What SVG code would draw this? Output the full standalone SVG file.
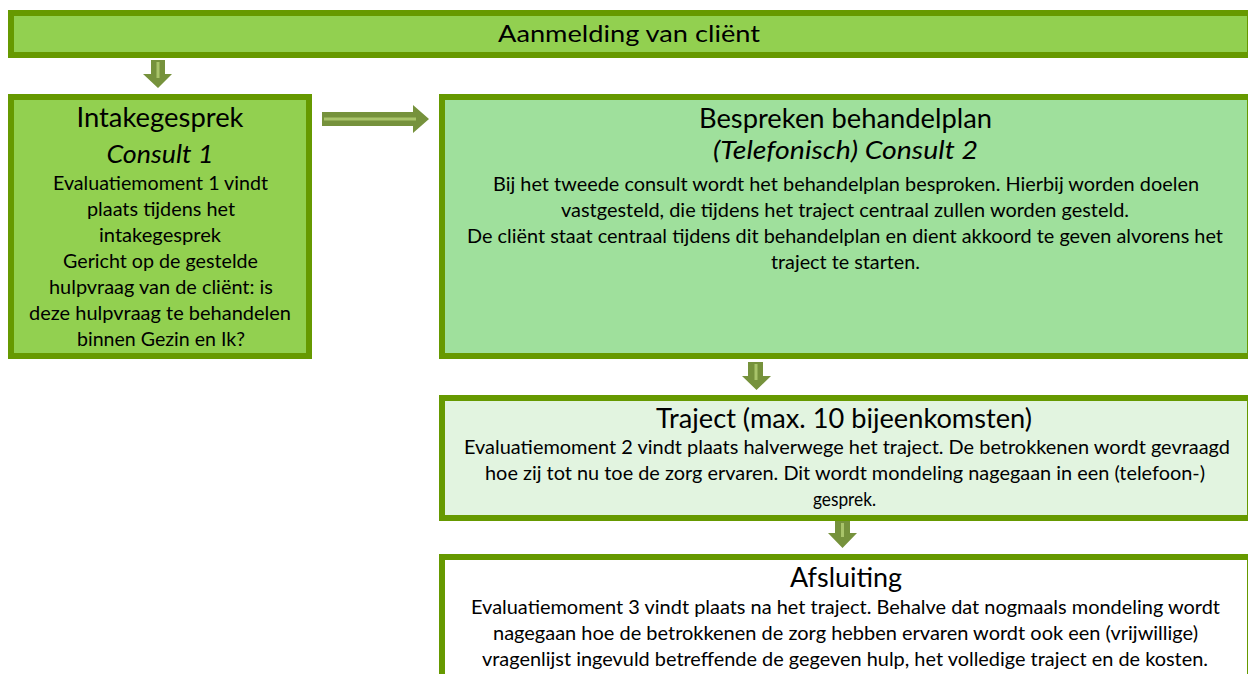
<svg xmlns="http://www.w3.org/2000/svg" width="1248" height="674" viewBox="0 0 1248 674">
<style>
  .bd { fill: #669900; }
  .t { font-family: Lato, "Open Sans", "Liberation Sans", sans-serif; fill: #000; text-anchor: middle; }
  .h { font-size: 26px; }
  .hi { font-size: 26px; font-style: italic; }
  .b { font-size: 18.7px; }
  .arr { fill: #76923C; }
  .hl { stroke: #A9C46A; stroke-width: 3; fill: none; }
</style>
<rect width="1248" height="674" fill="#ffffff"/>

<g id="aanmelding">
  <rect class="bd" x="8" y="10" width="1240" height="48"/>
  <rect x="14" y="16" width="1233" height="36" fill="#92D050"/>
  <text class="t" x="629" y="42" font-size="24" textLength="262" lengthAdjust="spacingAndGlyphs">Aanmelding van cliënt</text>
</g>

<g id="intakegesprek">
  <rect class="bd" x="8" y="94" width="304" height="265"/>
  <rect x="14" y="100" width="292" height="253" fill="#92D050"/>
  <text class="t h" x="160" y="127" textLength="167" lengthAdjust="spacingAndGlyphs">Intakegesprek</text>
  <text class="t hi" x="160" y="163" textLength="107" lengthAdjust="spacingAndGlyphs">Consult 1</text>
  <text class="t b" x="160.5" y="190" textLength="215" lengthAdjust="spacingAndGlyphs">Evaluatiemoment 1 vindt</text>
  <text class="t b" x="161" y="216" textLength="148" lengthAdjust="spacingAndGlyphs">plaats tijdens het</text>
  <text class="t b" x="160" y="242" textLength="122" lengthAdjust="spacingAndGlyphs">intakegesprek</text>
  <text class="t b" x="160.5" y="268" textLength="195" lengthAdjust="spacingAndGlyphs">Gericht op de gestelde</text>
  <text class="t b" x="161" y="294" textLength="224" lengthAdjust="spacingAndGlyphs">hulpvraag van de cliënt: is</text>
  <text class="t b" x="160" y="320" textLength="262" lengthAdjust="spacingAndGlyphs">deze hulpvraag te behandelen</text>
  <text class="t b" x="161" y="346" textLength="168" lengthAdjust="spacingAndGlyphs">binnen Gezin en Ik?</text>
</g>

<g id="bespreken">
  <rect class="bd" x="439" y="94" width="809" height="265"/>
  <rect x="445" y="100" width="802" height="253" fill="#9FE09C"/>
  <text class="t h" x="845.5" y="128" textLength="293" lengthAdjust="spacingAndGlyphs">Bespreken behandelplan</text>
  <text class="t hi" x="845.5" y="159" textLength="265" lengthAdjust="spacingAndGlyphs">(Telefonisch) Consult 2</text>
  <text class="t b" x="846" y="191" textLength="706" lengthAdjust="spacingAndGlyphs">Bij het tweede consult wordt het behandelplan besproken. Hierbij worden doelen</text>
  <text class="t b" x="845" y="217" textLength="568" lengthAdjust="spacingAndGlyphs">vastgesteld, die tijdens het traject centraal zullen worden gesteld.</text>
  <text class="t b" x="845" y="243" textLength="756" lengthAdjust="spacingAndGlyphs">De cliënt staat centraal tijdens dit behandelplan en dient akkoord te geven alvorens het</text>
  <text class="t b" x="845.5" y="269" textLength="149" lengthAdjust="spacingAndGlyphs">traject te starten.</text>
</g>

<g id="traject">
  <rect class="bd" x="439" y="395" width="809" height="126"/>
  <rect x="445" y="401" width="802" height="114" fill="#E2F4E0"/>
  <text class="t h" x="844" y="428" textLength="376" lengthAdjust="spacingAndGlyphs">Traject (max. 10 bijeenkomsten)</text>
  <text class="t b" x="847" y="454" textLength="766" lengthAdjust="spacingAndGlyphs">Evaluatiemoment 2 vindt plaats halverwege het traject. De betrokkenen wordt gevraagd</text>
  <text class="t b" x="845" y="480" textLength="720" lengthAdjust="spacingAndGlyphs">hoe zij tot nu toe de zorg ervaren. Dit wordt mondeling nagegaan in een (telefoon-)</text>
  <text class="t b" x="844.5" y="506" textLength="63" lengthAdjust="spacingAndGlyphs">gesprek.</text>
</g>

<g id="afsluiting">
  <rect class="bd" x="439" y="554" width="809" height="126"/>
  <rect x="445" y="560" width="802" height="120" fill="#FFFFFF"/>
  <text class="t h" x="846" y="587" textLength="112" lengthAdjust="spacingAndGlyphs">Afsluiting</text>
  <text class="t b" x="845.5" y="614" textLength="749" lengthAdjust="spacingAndGlyphs">Evaluatiemoment 3 vindt plaats na het traject. Behalve dat nogmaals mondeling wordt</text>
  <text class="t b" x="845.5" y="640" textLength="705" lengthAdjust="spacingAndGlyphs">nagegaan hoe de betrokkenen de zorg hebben ervaren wordt ook een (vrijwillige)</text>
  <text class="t b" x="845" y="666" textLength="726" lengthAdjust="spacingAndGlyphs">vragenlijst ingevuld betreffende de gegeven hulp, het volledige traject en de kosten.</text>
</g>

<g id="connectors">
  <path class="arr" d="M151,60 H165 V74 H172 L158,88 L143,74 H151 Z"/>
  <line class="hl" x1="158" y1="62" x2="158" y2="78"/>
  <path class="arr" d="M322,112 H413 V105 L429,119 L413,133 V126 H322 Z"/>
  <line class="hl" x1="324" y1="119" x2="416" y2="119"/>
  <path class="arr" d="M748,362 H763 V376 H771 L756.5,390 L742,376 H748 Z"/>
  <line class="hl" x1="756" y1="364" x2="756" y2="380"/>
  <path class="arr" d="M835,521 H850 V533 H857 L842.5,548 L828,533 H835 Z"/>
  <line class="hl" x1="842.5" y1="523" x2="842.5" y2="537"/>
</g>
</svg>
